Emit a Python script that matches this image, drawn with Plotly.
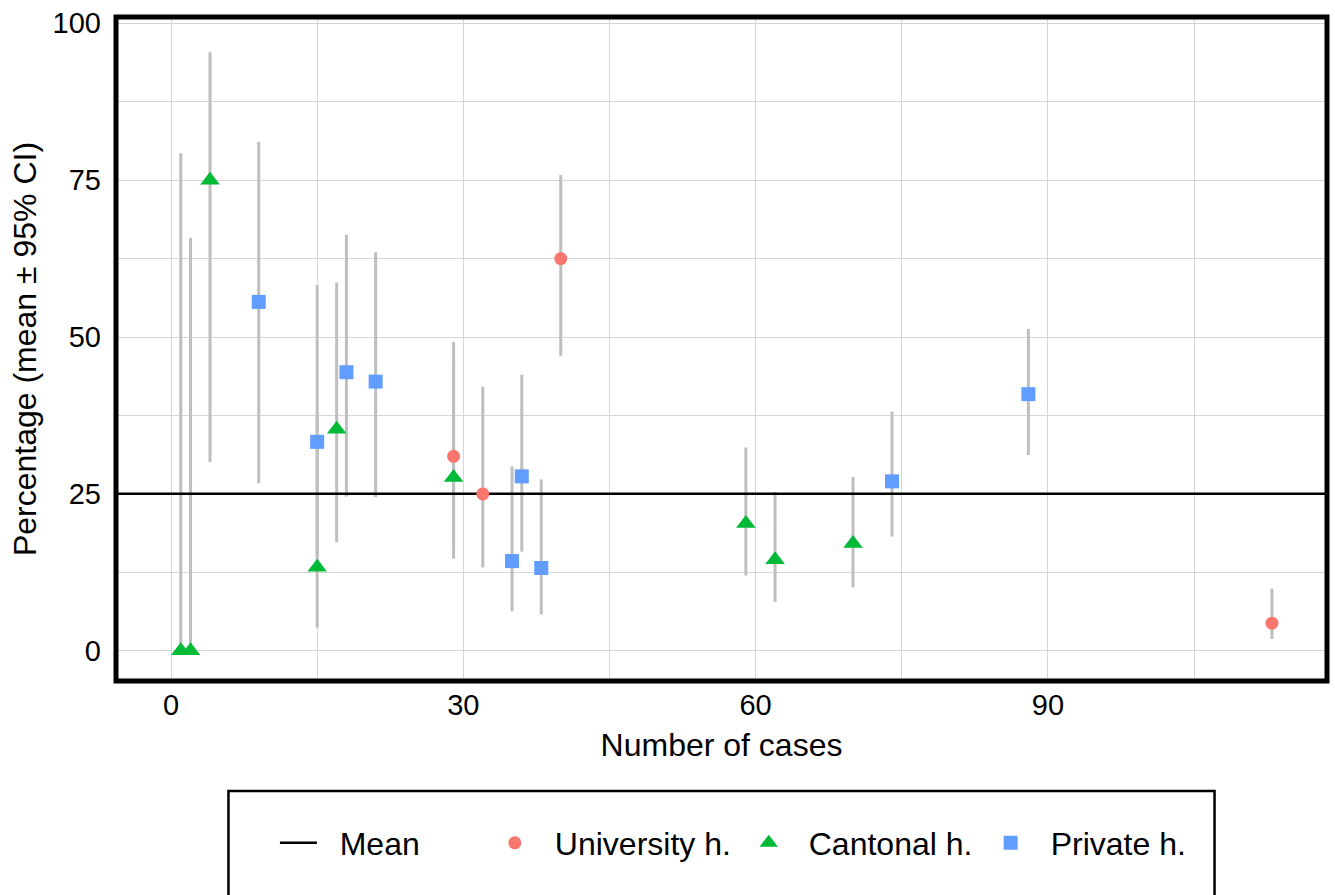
import plotly.graph_objects as go

# ---- data ----
univ_x = [29, 32, 40, 113]
univ_y = [31.0, 25.0, 62.5, 4.4]
univ_lo = [17.3, 13.3, 47.0, 1.9]
univ_hi = [49.2, 42.1, 75.8, 9.9]

cant_x = [1, 2, 4, 15, 17, 29, 59, 62, 70]
cant_y = [0.0, 0.0, 75.0, 13.3, 35.3, 27.6, 20.3, 14.5, 17.1]
cant_lo = [0.0, 0.0, 30.1, 3.7, 17.3, 14.7, 12.0, 7.8, 10.1]
cant_hi = [79.3, 65.8, 95.4, 37.9, 58.7, 45.8, 32.4, 25.3, 27.7]

priv_x = [9, 15, 18, 21, 35, 36, 38, 74, 88]
priv_y = [55.6, 33.3, 44.4, 42.9, 14.3, 27.8, 13.2, 27.0, 40.9]
priv_lo = [26.7, 15.2, 24.6, 24.5, 6.3, 15.8, 5.8, 18.2, 31.2]
priv_hi = [81.1, 58.3, 66.3, 63.5, 29.4, 44.0, 27.3, 38.1, 51.3]

mean_value = 25.03

series_names = ["University h.", "Cantonal h.", "Private h."]
x_ticks = [0, 30, 60, 90]
y_ticks = [0, 25, 50, 75, 100]

# ---- styling ----
COLORS = ["#F8766D", "#00BA38", "#619CFF"]
SYMBOLS = ["circle", "triangle-up", "square"]
SIZES = [13, 17, 14]
CI_COLOR = "#BEBEBE"
GRID = "#D6D6D6"
FONT = "Liberation Sans, Arial, Helvetica, sans-serif"
X_RANGE = [-5.65, 118.65]
Y_RANGE = [-4.81, 101.0]

W, H = 1335, 895
ML, MR, MT, MB = 116, 7.5, 17, 214
PW = W - ML - MR
PH = H - MT - MB


def px_x(p):
    return (p - ML) / PW


def px_y(q):
    return (H - MB - q) / PH


groups = [
    (univ_x, univ_y, univ_lo, univ_hi),
    (cant_x, cant_y, cant_lo, cant_hi),
    (priv_x, priv_y, priv_lo, priv_hi),
]

fig = go.Figure()

# CI line ranges (drawn first, under everything)
for (gx, gy, lo, hi) in groups:
    xs, ys = [], []
    for xv, l, h in zip(gx, lo, hi):
        xs += [xv, xv, None]
        ys += [l, h, None]
    fig.add_trace(go.Scatter(x=xs, y=ys, mode="lines",
                             line=dict(color=CI_COLOR, width=3),
                             showlegend=False, hoverinfo="skip"))

# mean line
fig.add_trace(go.Scatter(x=X_RANGE, y=[mean_value, mean_value], mode="lines",
                         line=dict(color="black", width=2.5),
                         name="\u00a0\u00a0Mean", legend="legend"))

legend_ids = ["legend2", "legend3", "legend4"]
for i, (gx, gy, lo, hi) in enumerate(groups):
    fig.add_trace(go.Scatter(x=gx, y=gy, mode="markers", name=series_names[i],
                             marker=dict(color=COLORS[i], symbol=SYMBOLS[i], size=SIZES[i],
                                         line=dict(width=0)),
                             legend=legend_ids[i]))

leg_common = dict(orientation="h", bgcolor="rgba(0,0,0,0)", borderwidth=0,
                  font=dict(family=FONT, size=32, color="black"),
                  yanchor="middle", xanchor="left", y=px_y(843))

fig.update_layout(
    width=W, height=H,
    margin=dict(l=ML, r=MR, t=MT, b=MB, autoexpand=False),
    paper_bgcolor="white", plot_bgcolor="white",
    font=dict(family=FONT, color="black"),
    legend=dict(**leg_common, itemwidth=37, x=px_x(275)),
    legend2=dict(**leg_common, itemwidth=70, x=px_x(475)),
    legend3=dict(**leg_common, itemwidth=70, x=px_x(729)),
    legend4=dict(**leg_common, itemwidth=70, x=px_x(971)),
    xaxis=dict(range=X_RANGE, tickmode="array", tickvals=x_ticks,
               showgrid=True, gridcolor=GRID, gridwidth=1.2, zeroline=False,
               minor=dict(dtick=15, tick0=0, showgrid=True, gridcolor=GRID, gridwidth=1.2),
               ticks="", tickfont=dict(size=29, color="black"), ticklabelstandoff=4,
               showline=False,
               title=dict(text="Number of cases", font=dict(size=32, color="black"), standoff=13)),
    yaxis=dict(range=Y_RANGE, tickmode="array", tickvals=y_ticks,
               showgrid=True, gridcolor=GRID, gridwidth=1.2, zeroline=False,
               minor=dict(dtick=12.5, tick0=0, showgrid=True, gridcolor=GRID, gridwidth=1.2),
               ticks="", tickfont=dict(size=29, color="black"), ticklabelstandoff=14,
               showline=False,
               title=dict(text="Percentage (mean ± 95% CI)", font=dict(size=32, color="black"), standoff=6)),
    shapes=[
        dict(type="rect", xref="paper", yref="paper", x0=0, x1=1, y0=0, y1=1,
             line=dict(color="black", width=5), layer="above"),
        dict(type="rect", xref="paper", yref="paper",
             x0=px_x(228.5), x1=px_x(1215), y0=px_y(791), y1=px_y(905),
             line=dict(color="black", width=2.5), layer="above"),
    ],
)

fig.write_html("out.html", config={"displayModeBar": False},
               post_script="document.body.style.margin='0px';")
